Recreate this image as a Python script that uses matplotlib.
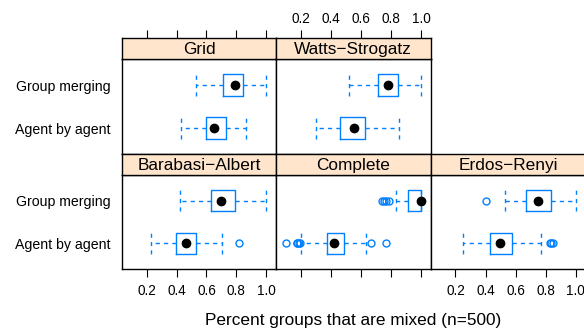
import matplotlib
matplotlib.use("Agg")
import matplotlib.pyplot as plt

plt.rcParams['font.family'] = ['Liberation Sans', 'DejaVu Sans']

panels = ["Grid", "Watts\u2212Strogatz", "Barabasi\u2212Albert", "Complete", "Erdos\u2212Renyi"]
groups = ["Agent by agent", "Group merging"]

# per panel: [agent by agent, group merging]
whisker_low = [[0.427, 0.529], [0.304, 0.523], [0.231, 0.423], [0.204, 0.834], [0.253, 0.532]]
q1 = [[0.596, 0.713], [0.459, 0.712], [0.393, 0.627], [0.377, 0.915], [0.429, 0.672]]
median = [[0.653, 0.789], [0.556, 0.782], [0.462, 0.698], [0.421, 1.0], [0.499, 0.750]]
q3 = [[0.729, 0.847], [0.630, 0.847], [0.527, 0.789], [0.490, 1.0], [0.579, 0.836]]
whisker_high = [[0.865, 1.0], [0.856, 1.0], [0.707, 1.0], [0.634, 1.0], [0.770, 1.0]]
outliers = [
    [[], []],
    [[], []],
    [[0.816], []],
    [[0.102, 0.172, 0.178, 0.185, 0.192, 0.667, 0.767], [0.741, 0.755, 0.767, 0.789]],
    [[0.826, 0.838, 0.848], [0.404]],
]
xticks = [0.2, 0.4, 0.6, 0.8, 1.0]
xtick_labels = ["0.2", "0.4", "0.6", "0.8", "1.0"]

W, H = 584, 331
blue = "#0080ff"
strip_col = "#ffe5cc"

# (row, col) of each panel, lattice style
grid_pos = [(0, 0), (0, 1), (1, 0), (1, 1), (1, 2)]
col_x = [(122, 276), (276, 430.7), (430.7, 585.4)]
row_y = [(59.3, 154), (175, 269)]
strip_h = 21


def rect(x0, x1, y0, y1):
    return [x0 / W, 1 - y1 / H, (x1 - x0) / W, (y1 - y0) / H]


fig = plt.figure(figsize=(W / 100, H / 100), dpi=100)

dash = (0, (3, 3))
for i, name in enumerate(panels):
    r, c = grid_pos[i]
    x0, x1 = col_x[c]
    y0, y1 = row_y[r]
    ax = fig.add_axes(rect(x0, x1, y0, y1))
    sax = fig.add_axes(rect(x0, x1, y0 - strip_h, y0))

    stats = []
    for g in range(2):
        stats.append(dict(whislo=whisker_low[i][g], q1=q1[i][g], med=median[i][g],
                          q3=q3[i][g], whishi=whisker_high[i][g], fliers=outliers[i][g]))
    ax.bxp(stats, positions=[1, 2], widths=0.5, capwidths=0.5, orientation='horizontal',
           boxprops=dict(color=blue, lw=1),
           whiskerprops=dict(color=blue, lw=1, linestyle=dash),
           capprops=dict(color=blue, lw=1, linestyle=dash),
           medianprops=dict(visible=False),
           flierprops=dict(marker='o', mfc='none', mec=blue, ms=5, mew=1))
    ax.plot(median[i], [1, 2], 'o', color='black', ms=6, zorder=5)

    for a in (ax, sax):
        a.set_xlim(0.035, 1.065)
        for s in a.spines.values():
            s.set_linewidth(1)
    ax.set_ylim(0.4, 2.6)
    ax.set_xticks(xticks)
    ax.tick_params(axis='x', length=6, width=0.8, pad=5, labelsize=9.8)
    ax.tick_params(axis='y', length=0, pad=8.5, labelsize=10.2)
    if c == 0:
        ax.set_yticks([1, 2])
        ax.set_yticklabels(groups)
    else:
        ax.set_yticks([])
    if r == 1:
        ax.set_xticklabels(xtick_labels if c != 1 else [])
    else:
        ax.set_xticks([])

    sax.set_facecolor(strip_col)
    sax.set_yticks([])
    sax.text(0.5, 0.45, name, transform=sax.transAxes, ha='center', va='center', fontsize=12.4)
    if r == 0:
        sax.set_xticks(xticks)
        sax.xaxis.tick_top()
        sax.tick_params(axis='x', length=6, width=0.8, pad=3, labelsize=9.8)
        sax.set_xticklabels(xtick_labels if c == 1 else [])
    else:
        sax.set_xticks([])

fig.text(353 / W, 1 - 320 / H, "Percent groups that are mixed (n=500)",
         ha='center', va='center', fontsize=12.4)

fig.savefig("out.png", dpi=100)
